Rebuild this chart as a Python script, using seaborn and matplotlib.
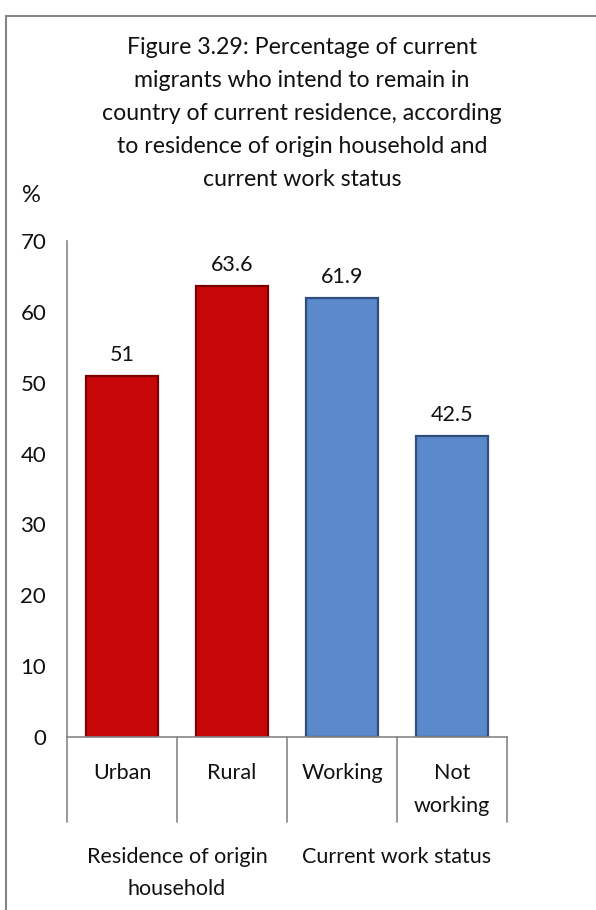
import matplotlib
matplotlib.use("Agg")
import matplotlib.pyplot as plt
import matplotlib.transforms as mtransforms
from matplotlib.patches import Rectangle
import seaborn as sns
import pandas as pd

categories = ["Urban", "Rural", "Working", "Not\nworking"]
values = [51, 63.6, 61.9, 42.5]
value_labels = ["51", "63.6", "61.9", "42.5"]
groups = ["Residence of origin\nhousehold", "Current work status"]
colors = ["#C80808", "#C80808", "#5A8ACB", "#5A8ACB"]
edge_colors = ["#7A0000", "#7A0000", "#2F4F7A", "#2F4F7A"]
yticks = [0, 10, 20, 30, 40, 50, 60, 70]
title = ("Figure 3.29: Percentage of current\nmigrants who intend to remain in\n"
         "country of current residence, according\nto residence of origin household and\n"
         "current work status")

sns.set_theme(style="white")
plt.rcParams["font.family"] = ["Lato", "DejaVu Sans"]

W, H = 596, 910
fig = plt.figure(figsize=(W / 100, H / 100), dpi=100)
ax = fig.add_axes([67 / W, (H - 737) / H, 440 / W, 496 / H])

df = pd.DataFrame({"cat": categories, "val": values})
sns.barplot(data=df, x="cat", y="val", hue="cat", palette=colors, width=0.66,
            legend=False, ax=ax, saturation=1)
for p, ec in zip(ax.patches, edge_colors):
    p.set_edgecolor(ec)
    p.set_linewidth(1.6)

for i, (v, lab) in enumerate(zip(values, value_labels)):
    ax.annotate(lab, (i, v), xytext=(0, 8), textcoords="offset points",
                ha="center", va="bottom", fontsize=15.5, color="#111111")

ax.set_xlim(-0.5, 3.5)
ax.set_ylim(0, 70)
ax.set_yticks(yticks)
ax.set_yticklabels([str(t) for t in yticks], fontsize=16, color="#111111")
ax.set_xticks(range(len(categories)))
ax.set_xticklabels(categories, fontsize=15.5, color="#111111", linespacing=1.78)
ax.tick_params(axis="x", length=0, pad=19)
ax.tick_params(axis="y", length=7, width=1, color="#868686", direction="out", pad=8)
ax.set_xlabel("")
ax.set_ylabel("")
for s in ["top", "right"]:
    ax.spines[s].set_visible(False)
for s in ["left", "bottom"]:
    ax.spines[s].set_color("#868686")
    ax.spines[s].set_linewidth(1.2)

trans = mtransforms.blended_transform_factory(ax.transData, ax.transAxes)
sep_bottom = -(822 - 737) / 496
for xs in [-0.5, 0.5, 1.5, 2.5, 3.5]:
    ax.plot([xs, xs], [0, sep_bottom], transform=trans, color="#868686",
            lw=1.2, clip_on=False)
for gx, g in zip([0.5, 2.5], groups):
    ax.text(gx, -(847 - 737) / 496, g, transform=trans, ha="center", va="top",
            fontsize=15.5, color="#111111", linespacing=1.78)

fig.text(302 / W, 1 - 37 / H, title, ha="center", va="top", fontsize=16.7,
         color="#111111", linespacing=1.7)
fig.text(31 / W, 1 - 195 / H, "%", ha="center", va="center", fontsize=17,
         color="#111111")

fig.patches.append(Rectangle((6 / W, -0.01), 1.1, 1 - 16 / H + 0.01,
                             transform=fig.transFigure, fill=False,
                             edgecolor="#868686", linewidth=1.5))

fig.savefig("out.png", dpi=100)
